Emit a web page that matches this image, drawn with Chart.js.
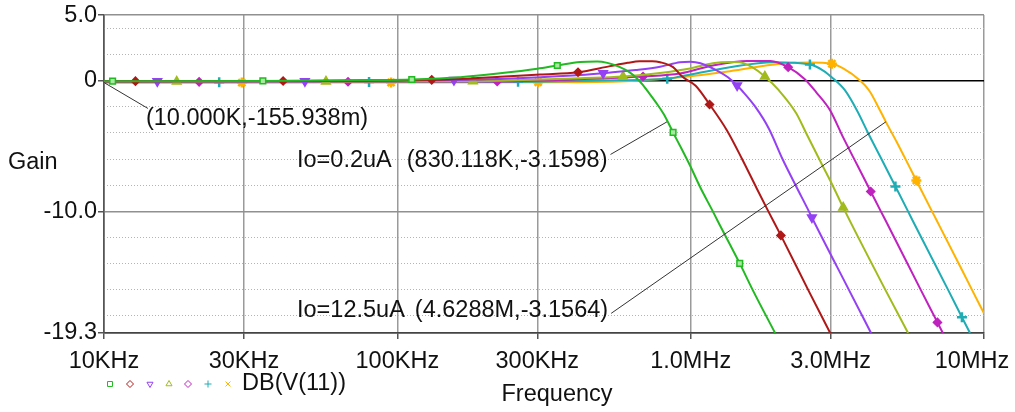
<!DOCTYPE html>
<html>
<head>
<meta charset="utf-8">
<script src="https://cdn.jsdelivr.net/npm/chart.js@4.4.0/dist/chart.umd.min.js"></script>
<style>
    html, body { margin: 0; padding: 0; background: #fff; }
    #wrap { position: relative; width: 1015px; height: 412px; }
</style>
</head>
<body>
<div id="wrap"><canvas id="gainChart" width="1015" height="412"></canvas></div>
<script>
// Axis ticks
const freqTicks = [1e4, 3e4, 1e5, 3e5, 1e6, 3e6, 1e7];
const freqTickLabels = ['10KHz', '30KHz', '100KHz', '300KHz', '1.0MHz', '3.0MHz', '10MHz'];
const gainTicks = [-19.3, -10, 0, 5];
const gainTickLabels = ['-19.3', '-10.0', '0', '5.0'];
const gainMinorTicks = [-18, -16, -14, -12, -8, -6, -4, -2, 2, 4];

// DB(V(11)) traces, one per bias current (Hz, dB). marks* = points carrying a marker.
const freqGreen = [1e4, 10.7e3, 34.8e3, 80e3, 112e3, 164e3, 224e3, 300e3, 351e3, 420e3, 480e3, 520e3, 574e3, 620e3, 656e3, 688e3, 710e3, 760e3, 811e3, 871e3, 930e3, 995e3, 1.08e6, 1.19e6, 1.234e6, 1.47e6, 1.63e6, 1.94e6];
const gainGreen = [-0.05, -0.05, -0.03, 0.03, 0.08, 0.25, 0.55, 0.9, 1.15, 1.42, 1.46, 1.35, 1.02, 0.62, 0.15, -0.35, -0.76, -1.65, -2.6, -3.97, -5.2, -6.5, -8.2, -10.0, -10.7, -13.98, -16.04, -19.3];
const marksGreen = [1, 2, 4, 8, 19, 25];

const freqRed = [1e4, 12.8e3, 40.8e3, 100e3, 131e3, 164e3, 224e3, 307e3, 413e3, 531e3, 610e3, 670e3, 740e3, 787e3, 871e3, 935e3, 1.04e6, 1.16e6, 1.33e6, 1.5e6, 1.68e6, 1.84e6, 2.03e6, 2.52e6, 2.99e6];
const gainRed = [-0.05, -0.05, -0.04, 0.0, 0.05, 0.12, 0.28, 0.46, 0.63, 1.1, 1.35, 1.47, 1.48, 1.4, 1.02, 0.3, -0.4, -1.83, -3.82, -6.04, -8.25, -10.0, -11.84, -16.04, -19.3];
const marksRed = [1, 2, 4, 8, 17, 22];

const freqPurple = [1e4, 15.2e3, 48.4e3, 156e3, 224e3, 307e3, 420e3, 503e3, 650e3, 787e3, 920e3, 1.0e6, 1.08e6, 1.23e6, 1.34e6, 1.44e6, 1.5e6, 1.66e6, 1.85e6, 2.06e6, 2.29e6, 2.53e6, 2.59e6, 3.47e6, 4.12e6];
const gainPurple = [-0.06, -0.06, -0.05, 0.03, 0.12, 0.25, 0.42, 0.56, 0.8, 1.05, 1.4, 1.44, 1.32, 0.76, 0.25, -0.38, -0.8, -2.0, -3.7, -6.04, -8.1, -10.0, -10.47, -16.04, -19.3];
const marksPurple = [1, 2, 3, 7, 15, 22];

const freqOlive = [1e4, 17.7e3, 57.1e3, 181e3, 307e3, 420e3, 588e3, 800e3, 995e3, 1.19e6, 1.35e6, 1.47e6, 1.62e6, 1.79e6, 2.0e6, 2.29e6, 2.47e6, 2.8e6, 3.06e6, 3.31e6, 4.62e6, 5.51e6];
const gainOlive = [-0.08, -0.08, -0.07, -0.05, 0.08, 0.18, 0.31, 0.6, 0.92, 1.32, 1.42, 1.40, 1.02, 0.31, -0.76, -2.5, -3.97, -6.4, -8.1, -9.7, -16.04, -19.3];
const marksOlive = [1, 2, 3, 6, 13, 19];

const freqMagenta = [1e4, 21.1e3, 67.9e3, 219e3, 420e3, 688e3, 920e3, 1.19e6, 1.56e6, 1.87e6, 2.15e6, 2.45e6, 2.68e6, 2.99e6, 3.31e6, 3.69e6, 4.11e6, 4.45e6, 4.62e6, 6.1e6, 6.94e6, 7.24e6];
const gainMagenta = [-0.1, -0.1, -0.09, -0.08, 0.1, 0.31, 0.53, 1.15, 1.5, 1.5, 1.02, 0.1, -0.9, -2.29, -4.35, -6.42, -8.48, -10.0, -10.7, -16.04, -18.49, -19.3];
const marksMagenta = [1, 2, 3, 5, 10, 16, 20];

const freqCyan = [1e4, 24.7e3, 80.1e3, 258e3, 500e3, 832e3, 920e3, 1.36e6, 1.91e6, 2.55e6, 2.83e6, 3.06e6, 3.36e6, 3.69e6, 4.05e6, 4.48e6, 4.99e6, 5.51e6, 5.71e6, 7.56e6, 8.41e6, 8.96e6];
const gainCyan = [-0.13, -0.13, -0.12, -0.1, 0.0, 0.13, 0.3, 1.02, 1.40, 1.22, 0.76, 0.15, -0.76, -2.29, -4.13, -6.04, -8.10, -10.0, -10.7, -16.04, -18.1, -19.3];
const marksCyan = [1, 2, 3, 5, 9, 16, 20];

const freqOrange = [1e4, 29.5e3, 95.2e3, 302e3, 600e3, 920e3, 1.36e6, 2.02e6, 2.55e6, 3.03e6, 3.31e6, 3.78e6, 4.06e6, 4.46e6, 4.6288e6, 5.04e6, 5.57e6, 5.88e6, 6.65e6, 6.9e6, 8.43e6, 9.12e6, 1e7];
const gainOrange = [-0.16, -0.16, -0.15, -0.13, -0.05, 0.25, 0.71, 1.28, 1.38, 1.28, 0.92, 0.0, -0.76, -2.45, -3.16, -4.7, -6.6, -7.64, -10.0, -10.7, -14.52, -16.04, -17.8];
const marksOrange = [1, 2, 3, 9, 17];

// Cursor read-outs
const cursorFreq = [10000, 830118, 4628800];
const cursorGain = [-0.155938, -3.1598, -3.1564];
const cursorTraceLabels = ['', 'Io=0.2uA', 'Io=12.5uA'];
const cursorValueLabels = ['(10.000K,-155.938m)', '(830.118K,-3.1598)', '(4.6288M,-3.1564)'];

const legendLabel = 'DB(V(11))';


const FONT = "'Liberation Sans', Arial, sans-serif";
const FONT_SIZE = 23.5;

const traces = [
    { freq: freqGreen, gain: gainGreen, marks: marksGreen, color: '#22b922', fill: '#a8e8a0', style: 'rect', rot: 0, r: 4 },
    { freq: freqRed, gain: gainRed, marks: marksRed, color: '#b01818', fill: '#b01818', style: 'rectRot', rot: 0, r: 4 },
    { freq: freqPurple, gain: gainPurple, marks: marksPurple, color: '#9440f5', fill: '#9440f5', style: 'triangle', rot: 180, r: 5 },
    { freq: freqOlive, gain: gainOlive, marks: marksOlive, color: '#a2bb1c', fill: '#a2bb1c', style: 'triangle', rot: 0, r: 5 },
    { freq: freqMagenta, gain: gainMagenta, marks: marksMagenta, color: '#bf22bf', fill: '#bf22bf', style: 'rectRot', rot: 0, r: 4 },
    { freq: freqCyan, gain: gainCyan, marks: marksCyan, color: '#1fadb5', fill: '#1fadb5', style: 'cross', rot: 0, r: 5 },
    { freq: freqOrange, gain: gainOrange, marks: marksOrange, color: '#ffb300', fill: '#ffb300', style: 'star', rot: 0, r: 5 }
];

const datasets = traces.map((t) => ({
    data: t.freq.map((f, i) => ({ x: f, y: t.gain[i] })),
    borderColor: t.color,
    borderWidth: 2,
    cubicInterpolationMode: 'monotone',
    pointStyle: t.style,
    pointRotation: t.rot,
    pointRadius: (ctx) => t.marks.includes(ctx.dataIndex) ? t.r : 0,
    pointBorderColor: t.color,
    pointBackgroundColor: t.fill,
    pointBorderWidth: (t.style == 'cross' || t.style == 'star') ? 2.5 : 1.5
}));


// Texts that are not drawn by the axes: y title, x title, last x label, legend, cursor labels.
const overlayPlugin = {
    id: 'overlay',
    afterDraw(chart) {
        const ctx = chart.ctx;
        const area = chart.chartArea;
        const xs = chart.scales.x;
        const ys = chart.scales.y;

        ctx.save();
        ctx.font = FONT_SIZE + 'px ' + FONT;
        ctx.fillStyle = '#111';
        ctx.textBaseline = 'middle';

        // "Gain"
        ctx.textAlign = 'left';
        ctx.fillText('Gain', 8, 163);

        // "Frequency"
        ctx.textAlign = 'center';
        ctx.fillText('Frequency', (area.left + area.right) / 2 + 13, 395);

        // last frequency label, pulled in so it stays on the page
        const last = freqTicks.length - 1;
        ctx.fillText(freqTickLabels[last], xs.getPixelForValue(freqTicks[last]) - 12, area.bottom + 29);

        // Legend
        const legendX = [110, 130, 150, 169, 188, 208, 228];
        traces.forEach((t, i) => {
            ctx.strokeStyle = t.color;
            ctx.fillStyle = '#fff';
            Chart.helpers.drawPoint(ctx, {
                pointStyle: t.style == 'star' ? 'crossRot' : t.style,
                rotation: t.rot,
                radius: 3.5,
                borderWidth: 1.2
            }, legendX[i], 384);
        });
        ctx.fillStyle = '#111';
        ctx.textAlign = 'left';
        ctx.fillText(legendLabel, 242, 384);

        // Cursor read-outs
        const labelAt = [[13.9e3, -2.9], [45.5e3, -6.11], [45.5e3, -17.57]];
        const gaps = [0, 15, 10];
        const lineDy = [-10, -6, 3];
        ctx.strokeStyle = '#333';
        ctx.lineWidth = 1;
        for (let i = 0; i < cursorFreq.length; ++i) {
            let x = xs.getPixelForValue(labelAt[i][0]);
            const y = ys.getPixelForValue(labelAt[i][1]);
            if (cursorTraceLabels[i] !== '') {
                ctx.fillText(cursorTraceLabels[i], x, y);
                x += ctx.measureText(cursorTraceLabels[i]).width + gaps[i];
            }
            ctx.fillText(cursorValueLabels[i], x, y);
            const w = ctx.measureText(cursorValueLabels[i]).width;

            const px = xs.getPixelForValue(cursorFreq[i]);
            const py = ys.getPixelForValue(cursorGain[i]);
            ctx.beginPath();
            if (i == 0) {
                ctx.moveTo(px, py);
                ctx.lineTo(x + 2, y + lineDy[i]);
            } else {
                ctx.moveTo(x + w + 3, y + lineDy[i]);
                ctx.lineTo(px, py);
            }
            ctx.stroke();
        }
        ctx.restore();
    }
};


const chart = new Chart(document.getElementById('gainChart'), {
    type: 'line',
    data: { datasets: datasets },
    options: {
        responsive: false,
        animation: false,
        devicePixelRatio: 1,
        layout: { padding: { left: 0, top: 15, right: 31, bottom: 0 } },
        plugins: {
            legend: { display: false },
            tooltip: { enabled: false }
        },
        scales: {
            x: {
                type: 'logarithmic',
                min: 1e4,
                max: 1e7,
                afterBuildTicks: (scale) => { scale.ticks = freqTicks.map((v) => ({ value: v })); },
                afterFit: (scale) => {
                    scale.height = 79;
                    // keep the plot edge fixed, the last label may overhang
                    scale.paddingLeft = 0;
                    scale.paddingRight = 0;
                },
                ticks: {
                    autoSkip: false,
                    maxRotation: 0,
                    padding: 8,
                    color: '#111',
                    font: { family: FONT, size: FONT_SIZE },
                    // the last one is drawn by the overlay plugin
                    callback: (value, index) => index == freqTicks.length - 1 ? '' : freqTickLabels[index]
                },
                grid: {
                    color: (ctx) => ctx.index === 0 ? '#444' : '#9a9a9a',
                    lineWidth: 1.5,
                    tickLength: 6,
                    tickColor: '#555'
                },
                border: { color: '#444', width: 1.5 }
            },
            y: {
                type: 'linear',
                position: 'left',
                min: -19.3,
                max: 5,
                afterBuildTicks: (scale) => { scale.ticks = gainTicks.map((v) => ({ value: v })); },
                afterFit: (scale) => { scale.width = 104; },
                ticks: {
                    padding: 1,
                    color: '#111',
                    font: { family: FONT, size: FONT_SIZE },
                    callback: (value, index) => gainTickLabels[index]
                },
                grid: {
                    color: (ctx) => {
                        const v = ctx.tick ? ctx.tick.value : null;
                        if (v === 0) return '#000';
                        if (v === -19.3) return '#444';
                        return '#909090';
                    },
                    lineWidth: 1.5,
                    tickLength: 6,
                    tickColor: '#555'
                },
                border: { color: '#555', width: 1.5 }
            },
            yMinor: {
                type: 'linear',
                position: 'left',
                min: -19.3,
                max: 5,
                afterBuildTicks: (scale) => { scale.ticks = gainMinorTicks.map((v) => ({ value: v })); },
                afterFit: (scale) => { scale.width = 0; },
                ticks: { display: false },
                grid: { color: '#b4b4b4', lineWidth: 1, drawTicks: false },
                border: { display: false, dash: [1, 2] }
            }
        }
    },
    plugins: [overlayPlugin]
});
</script>
</body>
</html>
